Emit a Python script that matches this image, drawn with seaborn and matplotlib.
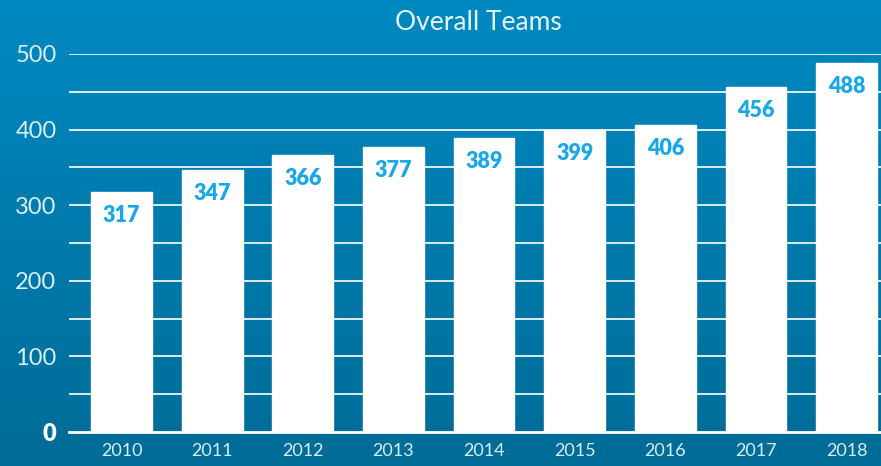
import numpy as np
import pandas as pd
import matplotlib
matplotlib.use("Agg")
import matplotlib.pyplot as plt
from matplotlib.colors import LinearSegmentedColormap
import seaborn as sns

years = ["2010", "2011", "2012", "2013", "2014", "2015", "2016", "2017", "2018"]
teams = [317, 347, 366, 377, 389, 399, 406, 456, 488]
yticks = [0, 100, 200, 300, 400, 500]

df = pd.DataFrame({"year": years, "teams": teams})

sns.set_theme(style="white")
plt.rcParams["font.family"] = ["Lato", "DejaVu Sans"]

fig = plt.figure(figsize=(8.81, 4.66), dpi=100)

# gradient background
bg = fig.add_axes([0, 0, 1, 1], zorder=0)
cmap = LinearSegmentedColormap.from_list("bg", ["#0089c1", "#006c97"])
bg.imshow(np.linspace(0, 1, 256).reshape(-1, 1), aspect="auto", cmap=cmap,
          extent=[0, 1, 0, 1])
bg.set_axis_off()

ax = fig.add_axes([69 / 881, 1 - 432 / 466, (881 - 69) / 881, (432 - 54) / 466], zorder=1)
ax.patch.set_alpha(0)

for v in range(50, 501, 50):
    ax.axhline(v, color="white", lw=1.2, zorder=0)

sns.barplot(data=df, x="year", y="teams", color="white", width=0.67,
            saturation=1, ax=ax, zorder=2)

for i, v in enumerate(teams):
    ax.text(i, v - 31, str(v), ha="center", va="center", fontsize=15.5,
            fontweight="heavy", color="#18a8e8", zorder=3)

ax.set_xlim(-0.58, 8.38)
ax.set_ylim(0, 500)
ax.set_yticks(yticks)
ax.set_yticklabels([str(t) for t in yticks])
for lab in ax.get_yticklabels():
    lab.set_color("#d9eef8")
    lab.set_fontsize(17)
    if lab.get_text() == "0":
        lab.set_fontweight("heavy")
        lab.set_color("white")
for lab in ax.get_xticklabels():
    lab.set_color("#d9eef8")
    lab.set_fontsize(13)
ax.tick_params(axis="y", length=0, pad=9)
ax.tick_params(axis="x", length=0, pad=8)
ax.set_xlabel("")
ax.set_ylabel("")
for s in ["top", "right", "left"]:
    ax.spines[s].set_visible(False)
ax.spines["bottom"].set_color("white")
ax.spines["bottom"].set_linewidth(2)

fig.text(478 / 881, 1 - 22 / 466, "Overall Teams", ha="center", va="center",
         fontsize=19, color="#e4f3fa")

fig.savefig("out.png", dpi=100)
